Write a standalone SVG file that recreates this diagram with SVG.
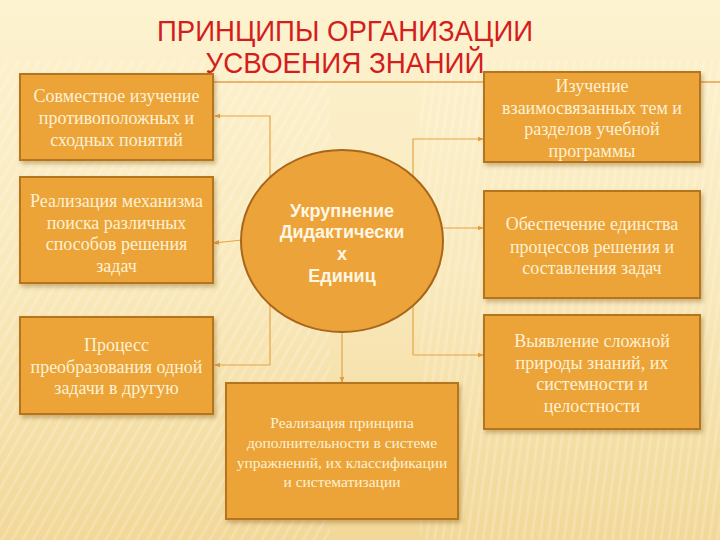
<svg xmlns="http://www.w3.org/2000/svg" width="720" height="540" viewBox="0 0 720 540">
<defs>
<linearGradient id="bg" x1="0" y1="0" x2="0" y2="1">
<stop offset="0" stop-color="#fdf3d0"/>
<stop offset="0.5" stop-color="#f9e9bc"/>
<stop offset="1" stop-color="#f2d898"/>
</linearGradient>
<pattern id="diag" width="9" height="9" patternUnits="userSpaceOnUse" patternTransform="rotate(30)">
<rect width="3" height="9" fill="#ffffff" opacity="0.35"/>
</pattern>
<pattern id="vert" width="8" height="8" patternUnits="userSpaceOnUse" patternTransform="rotate(8)">
<rect width="3" height="8" fill="#ffffff" opacity="0.35"/>
</pattern>
<filter id="sh" x="-10%" y="-10%" width="125%" height="130%">
<feDropShadow dx="2" dy="3" stdDeviation="2" flood-color="#7a4a10" flood-opacity="0.35"/>
</filter>
<marker id="ar" viewBox="0 0 8 8" refX="7" refY="4" markerWidth="6" markerHeight="6" orient="auto" markerUnits="userSpaceOnUse">
<path d="M0,0.8 L8,4 L0,7.2 Z" fill="#e39a3c"/>
</marker>
</defs>
<style>
.box{fill:#eca339;stroke:#b5741f;stroke-width:2;filter:url(#sh)}
.t{font-family:"Liberation Serif","Times New Roman",serif;font-size:18px;fill:#fdf1d4;text-anchor:middle}
.t.ts{font-size:15.5px}
.c{font-family:"Liberation Sans",Arial,sans-serif;font-weight:bold;font-size:18px;fill:#fff7e4;text-anchor:middle}
.ln{fill:none;stroke:#e6a447;stroke-width:1.2}
.title{font-family:"Liberation Sans",Arial,sans-serif;font-size:30px;fill:#d41d1d;text-anchor:middle}
</style>
<rect width="720" height="540" fill="url(#bg)"/>
<rect x="0" y="60" width="330" height="480" fill="url(#diag)" opacity="0.5"/>
<rect x="420" y="60" width="300" height="480" fill="url(#vert)" opacity="0.5"/>

<g id="title">
<text class="title" x="345" y="41" textLength="376" lengthAdjust="spacingAndGlyphs">ПРИНЦИПЫ ОРГАНИЗАЦИИ</text>
<text class="title" x="345" y="73" textLength="279" lengthAdjust="spacingAndGlyphs">УСВОЕНИЯ ЗНАНИЙ</text>
</g>
<line x1="213" y1="82" x2="720" y2="82" stroke="#e3a04a" stroke-width="1.5"/>

<g id="connectors">
<polyline class="ln" points="270,365 270,116 215,116" marker-end="url(#ar)"/>
<polyline class="ln" points="270,365 215,365" marker-end="url(#ar)"/>
<line class="ln" x1="242" y1="240" x2="214" y2="243" marker-end="url(#ar)"/>
<polyline class="ln" points="413,355 413,139 483,139" marker-end="url(#ar)"/>
<polyline class="ln" points="413,355 483,355" marker-end="url(#ar)"/>
<line class="ln" x1="443" y1="228" x2="483" y2="228" marker-end="url(#ar)"/>
<line class="ln" x1="342" y1="332" x2="342" y2="382" marker-end="url(#ar)"/>
</g>

<g id="center">
<ellipse cx="342" cy="241" rx="101" ry="91" fill="#eca339" stroke="#a9661a" stroke-width="2"/>
<text class="c" x="342" y="217">Укрупнение</text>
<text class="c" x="342" y="238">Дидактически</text>
<text class="c" x="342" y="260">х</text>
<text class="c" x="342" y="282">Единиц</text>
</g>

<g id="n1">
<rect class="box" x="20" y="74" width="193" height="86"/>
<text class="t" x="116.5" y="102">Совместное изучение</text>
<text class="t" x="116.5" y="124">противоположных и</text>
<text class="t" x="116.5" y="146">сходных понятий</text>
</g>

<g id="n2">
<rect class="box" x="20" y="177" width="193" height="106"/>
<text class="t" x="116.5" y="207">Реализация механизма</text>
<text class="t" x="116.5" y="229">поиска различных</text>
<text class="t" x="116.5" y="250">способов решения</text>
<text class="t" x="116.5" y="272">задач</text>
</g>

<g id="n3">
<rect class="box" x="20" y="317" width="193" height="97"/>
<text class="t" x="116.5" y="351">Процесс</text>
<text class="t" x="116.5" y="373">преобразования одной</text>
<text class="t" x="116.5" y="394">задачи в другую</text>
</g>

<g id="n4">
<rect class="box" x="226" y="383" width="232" height="136"/>
<text class="t ts" x="342" y="428">Реализация принципа</text>
<text class="t ts" x="342" y="448">дополнительности в системе</text>
<text class="t ts" x="342" y="468">упражнений, их классификации</text>
<text class="t ts" x="342" y="487">и систематизации</text>
</g>

<g id="n5">
<rect class="box" x="484" y="72" width="216" height="90"/>
<text class="t" x="592" y="92">Изучение</text>
<text class="t" x="592" y="114">взаимосвязанных тем и</text>
<text class="t" x="592" y="135">разделов учебной</text>
<text class="t" x="592" y="157">программы</text>
</g>

<g id="n6">
<rect class="box" x="484" y="191" width="216" height="107"/>
<text class="t" x="592" y="230">Обеспечение единства</text>
<text class="t" x="592" y="253">процессов решения и</text>
<text class="t" x="592" y="274">составления задач</text>
</g>

<g id="n7">
<rect class="box" x="484" y="315" width="216" height="114"/>
<text class="t" x="592" y="347">Выявление сложной</text>
<text class="t" x="592" y="369">природы знаний, их</text>
<text class="t" x="592" y="390">системности и</text>
<text class="t" x="592" y="412">целостности</text>
</g>
</svg>
